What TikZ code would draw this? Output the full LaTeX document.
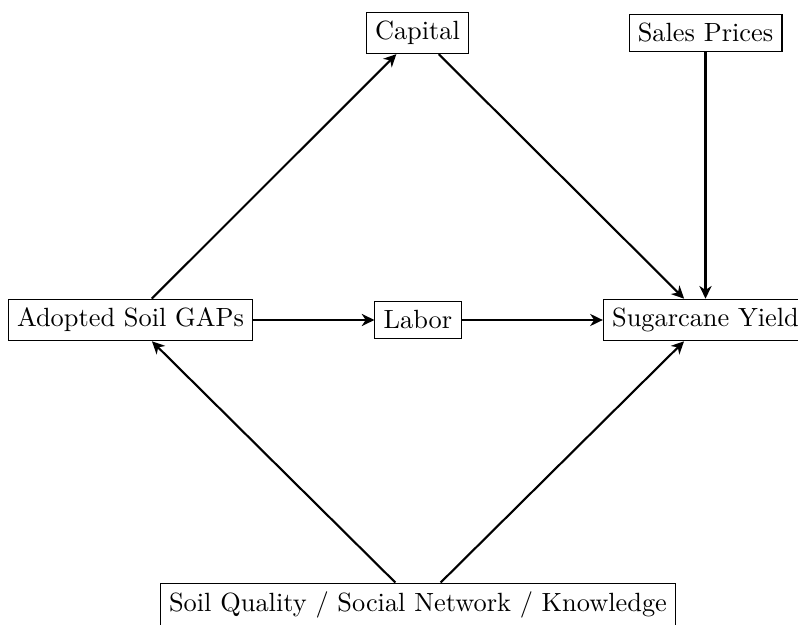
\documentclass[tikz,border=0pt]{standalone}
\usetikzlibrary{arrows.meta}
\begin{document}
\begin{tikzpicture}[x=0.3795pt,y=-0.3795pt,
  box/.style={draw,rectangle,inner sep=0.3333em,line width=0.4pt},
  conn/.style={-{Stealth[length=4.8pt,width=4.6pt,inset=1.5pt]},thick}]
\useasboundingbox (0,0) rectangle (798,625);
\node[box] (cap) at (417.5,33) {Capital};
\node[box] (sales) at (705.5,33) {Sales Prices};
\node[box] (gaps) at (130.5,320) {Adopted Soil GAPs};
\node[box] (labor) at (418,320) {Labor};
\node[box] (yield) at (705.5,320) {Sugarcane Yield};
\node[box] (soil) at (418,605) {Soil Quality / Social Network / Knowledge};
\draw[conn] (gaps) -- (cap);
\draw[conn] (cap) -- (yield);
\draw[conn] (sales) -- (yield);
\draw[conn] (gaps) -- (labor);
\draw[conn] (labor) -- (yield);
\draw[conn] (soil) -- (gaps);
\draw[conn] (soil) -- (yield);
\end{tikzpicture}
\end{document}
